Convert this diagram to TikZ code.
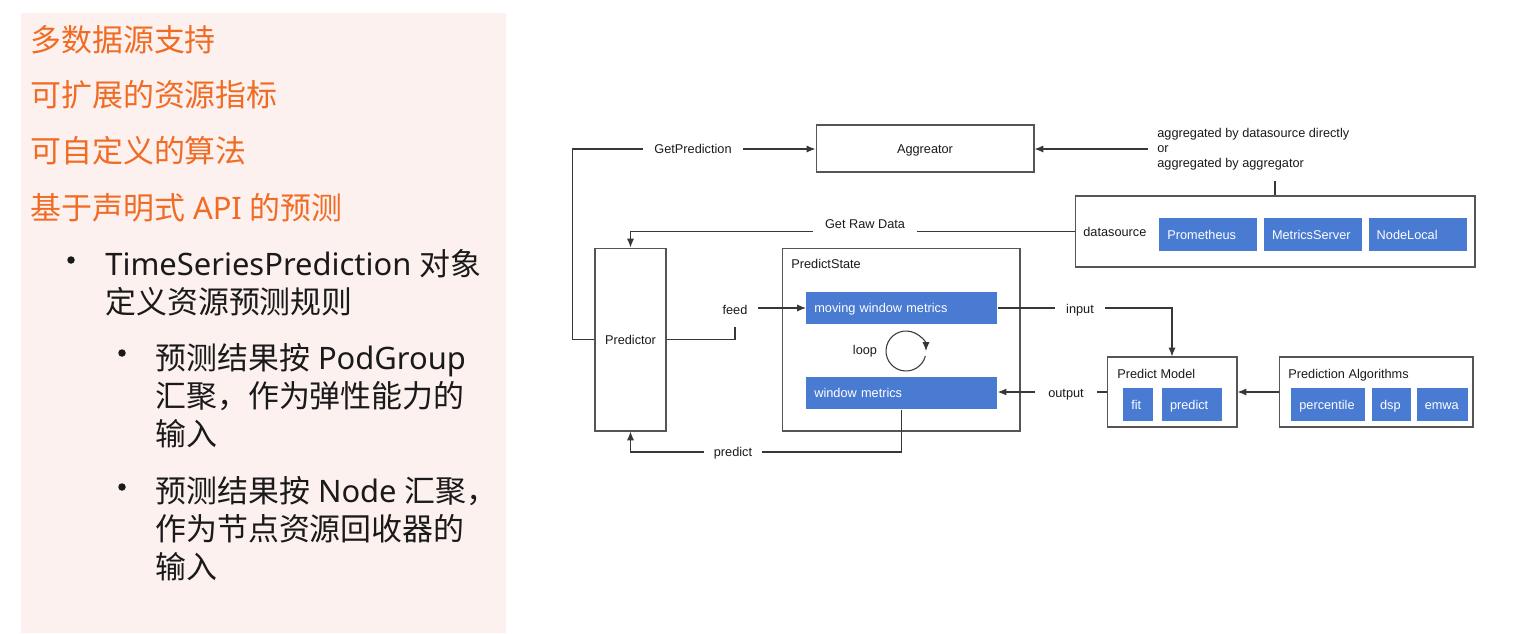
\documentclass[tikz,border=0pt]{standalone}
\usepackage{fontspec}
\usepackage{xcolor}
\usepackage{tikz}
\usetikzlibrary{arrows.meta,positioning,calc}
\setmainfont{Noto Sans}
\newfontfamily\cjk{Noto Sans CJK SC}
\newfontfamily\dgfont{Liberation Sans}
\definecolor{slidepink}{RGB}{252, 241, 239}
\definecolor{titleorange}{RGB}{240, 108, 36}
\definecolor{bodyblack}{RGB}{26, 26, 26}
\definecolor{metricblue}{RGB}{74, 123, 211}
\definecolor{framegray}{RGB}{85, 85, 85}
\definecolor{wiregray}{RGB}{55, 55, 55}

\tikzset{
  panel/.style={draw=framegray, line width=0.6pt, inner sep=0pt, fill=white},
  dg/.style={font=\dgfont\fontsize{7.25}{9}\selectfont, text=bodyblack},
  oneline/.style={text height=5.2pt, text depth=0pt},
  metric/.style={oneline, fill=metricblue, text=white, font=\dgfont\fontsize{7.25}{9}\selectfont,
    minimum height=0.65cm, inner xsep=0.16cm, inner ysep=0pt, align=left, anchor=west},
  tag/.style={dg, oneline, inner ysep=0.1cm},
  link/.style={draw=wiregray, line width=0.6pt},
  flow/.style={link, -{Latex[length=5pt,width=4pt]}},
  headline/.style={anchor=base west, inner sep=0pt, text=titleorange, font=\fontsize{17.6}{21.6}\selectfont},
  bulletline/.style={anchor=base west, inner sep=0pt, text=bodyblack, align=left, font=\fontsize{17.6}{21.6}\selectfont},
}

\begin{document}
\begin{tikzpicture}[x=0.02cm, y=-0.02cm]
    \useasboundingbox (0,0) rectangle (1517,633);

    % Left panel: feature list
    \fill[slidepink] (21,13) rectangle (506,633);
    \node[headline] (t1) at (30,51) {\cjk 多数据源支持};
    \node[headline] (t2) at (30,106) {\cjk 可扩展的资源指标};
    \node[headline] (t3) at (30,162.5) {\cjk 可自定义的算法};
    \node[headline] (t4) at (30,219.5) {{\cjk 基于声明式} API {\cjk 的预测}};

    % base anchor sits on the last line
    \fill[bodyblack] (71,260) circle (0.075cm);
    \node[bulletline] (b1) at (105,313.5) {TimeSeriesPrediction {\cjk 对象}\\{\cjk 定义资源预测规则}};
    \fill[bodyblack] (122,353) circle (0.075cm);
    \node[bulletline] (s1) at (155,445.5) {{\cjk 预测结果按} PodGroup\\{\cjk 汇聚，作为弹性能力的}\\{\cjk 输入}};
    \fill[bodyblack] (122,487) circle (0.075cm);
    \node[bulletline] (s2) at (155,578.5) {{\cjk 预测结果按} Node {\cjk 汇聚，}\\{\cjk 作为节点资源回收器的}\\{\cjk 输入}};

    % Containers
    \node[panel, dg, oneline, minimum width=4.36cm, minimum height=0.94cm] (agg) at (925,148.5) {Aggreator};
    \node[panel, dg, oneline, minimum width=1.42cm, minimum height=3.66cm] (pred) at (630.5,339.5) {Predictor};
    \node[panel, minimum width=4.76cm, minimum height=3.66cm] (state) at (901,339.5) {};
    \node[dg, oneline, anchor=west, inner sep=0pt] (statelbl) at (791,264) {PredictState};
    \node[panel, minimum width=8cm, minimum height=1.42cm] (ds) at (1275,231.5) {};
    \node[dg, oneline, anchor=west, inner sep=0pt] (dslbl) at (1083,232) {datasource};
    \node[panel, minimum width=2.6cm, minimum height=1.4cm] (pm) at (1172,392) {};
    \node[dg, oneline, anchor=west, inner sep=0pt] (pmlbl) at (1117,374) {Predict Model};
    \node[panel, minimum width=3.88cm, minimum height=1.4cm] (pa) at (1376,392) {};
    \node[dg, oneline, anchor=west, inner sep=0pt] (palbl) at (1288,374) {Prediction Algorithms};

    % Blue entries
    \node[metric, text width=1.64cm] (prom) at (1159,234.5) {Prometheus};
    \node[metric, text width=1.64cm, right=0.12cm of prom] (msrv) {MetricsServer};
    \node[metric, text width=1.64cm, right=0.12cm of msrv] (nlocal) {NodeLocal};
    \node[metric, text width=3.5cm] (mw) at (806,308) {moving window metrics};
    \node[metric, text width=3.5cm] (wm) at (806,393) {window metrics};
    \node[metric, text width=0.28cm] (fit) at (1123,404.5) {fit};
    \node[metric, text width=0.88cm, right=0.16cm of fit] (pdt) {predict};
    \node[metric, text width=1.16cm] (pctl) at (1291,404.5) {percentile};
    \node[metric, text width=0.46cm, right=0.12cm of pctl] (dsp) {dsp};
    \node[metric, text width=0.7cm, right=0.1cm of dsp] (emwa) {emwa};

    % Connector labels
    \node[tag, inner xsep=0.22cm] (gp) at (693,149) {GetPrediction};
    \node[dg, anchor=west, inner xsep=0.18cm, align=left, font=\dgfont\fontsize{7.25}{8.5}\selectfont] (aggtxt) at (1148,149)
        {aggregated by datasource directly\\or\\aggregated by aggregator};
    \node[tag, inner xsep=0.24cm] (grd) at (865,224) {Get Raw Data};
    \node[tag, inner xsep=0.2cm, inner ysep=0.24cm] (feed) at (735,310) {feed};
    \node[tag, inner xsep=0.2cm] (prd) at (733,452) {predict};
    \node[tag, inner xsep=0.22cm] (inp) at (1080,309) {input};
    \node[tag, inner xsep=0.26cm] (outp) at (1066,393) {output};
    \node[tag] (loopl) at (865,350) {loop};
    \coordinate (aggfoot) at (1275,181);

    % Connectors
    \draw[link] (pred.west) -- ++(-22,0) |- (gp.west);
    \draw[flow] (gp.east) -- (gp.east -| agg.west);
    \draw[flow] (aggtxt.west) -- (aggtxt.west -| agg.east);
    \draw[link] (aggfoot) -- (ds.north);
    \draw[link] (ds.west) -- (ds.west -| grd.east);
    \draw[flow] (ds.west -| grd.west) -| (pred.north);
    \draw[link] (pred.east) -| (feed.south);
    \draw[flow] (feed.east |- mw.west) -- (mw.west);
    \draw[link] (wm.south) |- (prd.east);
    \draw[flow] (prd.west) -| (pred.south);
    \draw[link] (mw.east) -- (mw.east -| inp.west);
    \draw[flow] (inp.east |- mw.east) -| (pm.north);
    \draw[link] (pm.west) -- (pm.west -| outp.east);
    \draw[flow] (pm.west -| outp.west) -- (pm.west -| wm.east);
    \draw[flow] (pa.west) -- (pm.east);
    \draw[flow] (906,351) ++(345:0.4cm) arc[start angle=345, end angle=0, radius=0.4cm];
\end{tikzpicture}
\end{document}
